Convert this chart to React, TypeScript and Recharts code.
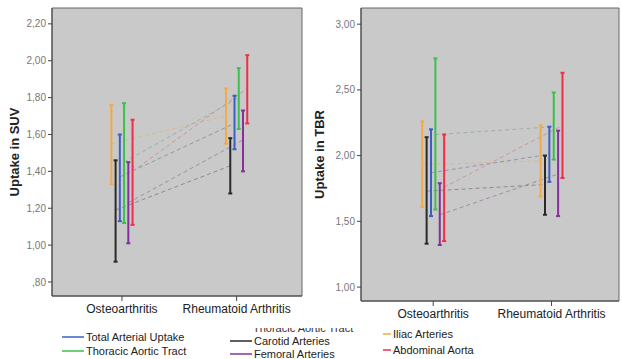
import React from 'react';
import {
  ComposedChart,
  Line,
  Scatter,
  ErrorBar,
  XAxis,
  YAxis,
  CartesianGrid,
  ReferenceArea,
} from 'recharts';

const groups = ['Osteoarthritis', 'Rheumatoid Arthritis'];
const seriesNames = [
  'Iliac Arteries',
  'Carotid Arteries',
  'Total Arterial Uptake',
  'Thoracic Aortic Tract',
  'Femoral Arteries',
  'Abdominal Aorta',
];

// SUV panel: [osteoarthritis, rheumatoid] per series
const suvMean = [[1.55, 1.70], [1.19, 1.43], [1.37, 1.66], [1.45, 1.80], [1.23, 1.57], [1.40, 1.85]];
const suvLow = [[1.33, 1.55], [0.91, 1.28], [1.13, 1.52], [1.12, 1.63], [1.01, 1.40], [1.11, 1.66]];
const suvHigh = [[1.76, 1.85], [1.46, 1.58], [1.60, 1.81], [1.77, 1.96], [1.45, 1.73], [1.68, 2.03]];
const suvTicks = [0.8, 1.0, 1.2, 1.4, 1.6, 1.8, 2.0, 2.2];

// TBR panel
const tbrMean = [[1.93, 1.96], [1.73, 1.78], [1.87, 2.01], [2.16, 2.22], [1.55, 1.86], [1.76, 2.23]];
const tbrLow = [[1.61, 1.69], [1.33, 1.55], [1.54, 1.80], [1.59, 1.97], [1.32, 1.54], [1.35, 1.83]];
const tbrHigh = [[2.26, 2.23], [2.14, 2.00], [2.20, 2.22], [2.74, 2.48], [1.79, 2.19], [2.16, 2.63]];
const tbrTicks = [1.0, 1.5, 2.0, 2.5, 3.0];

const colors = ['#f3aa45', '#2a2a2a', '#3b5fc4', '#3cc04c', '#87309c', '#ee2f47'];
const dashColors = ['#d9b98f', '#8c8c8c', '#8f96b0', '#9ab49c', '#a58aa9', '#c8979c'];

const X_DOMAIN: [number, number] = [-0.61, 1.57];
const STEP = 0.037;

const fmt = (v: number) => v.toFixed(2).replace('.', ',').replace(/^0,/, ',');

function buildSeries(mean: number[][], low: number[][], high: number[][]) {
  return seriesNames.map((name, si) =>
    groups.map((g, gi) => ({
      group: g,
      x: gi + (si - 2.5) * STEP,
      mean: mean[si][gi],
      err: [mean[si][gi] - low[si][gi], high[si][gi] - mean[si][gi]],
    }))
  );
}

const suvSeries = buildSeries(suvMean, suvLow, suvHigh);
const tbrSeries = buildSeries(tbrMean, tbrLow, tbrHigh);

const font = 'Liberation Sans, Arial, sans-serif';

function Panel(props: {
  series: ReturnType<typeof buildSeries>;
  yDomain: [number, number];
  ticks: number[];
  label: string;
  width: number;
  height: number;
  yAxisWidth: number;
  right: number;
}) {
  const { series, yDomain, ticks, label, width, height, yAxisWidth, right } = props;
  return (
    <ComposedChart width={width} height={height} margin={{ top: 8, right, left: 0, bottom: 0 }}>
      <CartesianGrid fill="#c9c9c9" fillOpacity={1} horizontal={false} vertical={false} />
      <XAxis
        type="number"
        dataKey="x"
        domain={X_DOMAIN}
        allowDataOverflow
        ticks={[0, 1]}
        tickFormatter={(v: number) => groups[v]}
        height={34}
        tick={{ fontSize: 12, fill: '#222', fontFamily: font }}
        tickSize={5}
        tickMargin={3}
        stroke="#444"
      />
      <YAxis
        type="number"
        domain={yDomain}
        allowDataOverflow
        ticks={ticks}
        tickFormatter={fmt}
        width={yAxisWidth}
        tick={{ fontSize: 10, fill: '#777', fontFamily: font }}
        tickSize={4}
        stroke="#444"
        label={{
          value: label,
          angle: -90,
          position: 'insideLeft',
          offset: 14,
          style: { textAnchor: 'middle', fontSize: 13, fontWeight: 'bold', fill: '#222', fontFamily: font },
        }}
      />
      <ReferenceArea
        x1={X_DOMAIN[0]}
        x2={X_DOMAIN[1]}
        y1={yDomain[0]}
        y2={yDomain[1]}
        fill="none"
        stroke="#666"
        strokeWidth={1}
      />
      {series.map((pts, si) => (
        <Line
          key={`l-${si}`}
          data={pts}
          dataKey="mean"
          stroke={dashColors[si]}
          strokeWidth={1}
          strokeDasharray="4 3"
          dot={false}
          isAnimationActive={false}
        />
      ))}
      {series.map((pts, si) => (
        <Scatter
          key={`s-${si}`}
          name={seriesNames[si]}
          data={pts}
          dataKey="mean"
          shape={() => <g />}
          isAnimationActive={false}
        >
          <ErrorBar dataKey="err" direction="y" width={2} stroke={colors[si]} strokeWidth={2} />
        </Scatter>
      ))}
    </ComposedChart>
  );
}

const legendItems = [
  { si: 2, left: 62, top: 337, line: 22 },
  { si: 3, left: 62, top: 351, line: 22 },
  { si: 1, left: 230, top: 341, line: 22 },
  { si: 4, left: 230, top: 354, line: 22 },
  { si: 0, left: 383, top: 334, line: 8 },
  { si: 5, left: 383, top: 350, line: 8 },
];

export default function App() {
  return (
    <div style={{ position: 'absolute', left: 0, top: 0, width: 622, height: 359, background: '#fff', fontFamily: font, overflow: 'hidden' }}>
      <div style={{ position: 'absolute', left: 0, top: 0 }}>
        <Panel series={suvSeries} yDomain={[0.724, 2.286]} ticks={suvTicks} label="Uptake in SUV" width={310} height={330} yAxisWidth={52} right={8} />
      </div>
      <div style={{ position: 'absolute', left: 305, top: 0 }}>
        <Panel series={tbrSeries} yDomain={[0.894, 3.123]} ticks={tbrTicks} label="Uptake in TBR" width={317} height={335} yAxisWidth={56} right={3} />
      </div>
      {/* legend entry that is half hidden in the source image */}
      <div style={{ position: 'absolute', left: 253, top: 328, height: 4, overflow: 'hidden', width: 110 }}>
        <div style={{ position: 'relative', top: -6, fontSize: 11, lineHeight: '13px', color: '#333', whiteSpace: 'nowrap' }}>
          Thoracic Aortic Tract
        </div>
      </div>
      {legendItems.map((it) => (
        <div
          key={it.si}
          style={{ position: 'absolute', left: it.left, top: it.top - 7, height: 14, display: 'flex', alignItems: 'center', whiteSpace: 'nowrap' }}
        >
          <span style={{ display: 'inline-block', width: it.line, height: 1.5, background: colors[it.si], opacity: 0.75, marginRight: 2 }} />
          <span style={{ fontSize: 11, color: '#222' }}>{seriesNames[it.si]}</span>
        </div>
      ))}
    </div>
  );
}
